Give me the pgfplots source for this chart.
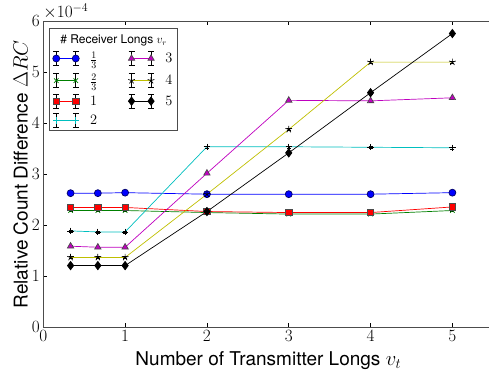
\documentclass[border=0pt]{standalone}
\usepackage{pgfplots}
\pgfplotsset{compat=1.18}
\usepackage{fontspec}
\setmainfont{TeX Gyre Heros}
\definecolor{mgreen}{rgb}{0,0.5,0}
\definecolor{mcyan}{rgb}{0,0.75,0.75}
\definecolor{mmag}{rgb}{0.75,0,0.75}
\definecolor{myel}{rgb}{0.75,0.75,0}
\begin{document}
\begin{tikzpicture}
\pgfplotsset{
 errleg/.style={legend image code/.code={
   \draw[black,line width=0.6pt] (0bp,-7bp)--(0bp,7bp) (-3bp,-7bp)--(3bp,-7bp) (-3bp,7bp)--(3bp,7bp)
      (19.5bp,-7bp)--(19.5bp,7bp) (16.5bp,-7bp)--(22.5bp,-7bp) (16.5bp,7bp)--(22.5bp,7bp);
   \draw[##1] plot coordinates {(0bp,0bp) (19.5bp,0bp)};
 }},
 ser/.style={line width=0.7pt, forget plot,
   error bars/y dir=both, error bars/y fixed=0.02e-4,
   error bars/error bar style={black,line width=0.5pt},
   error bars/error mark options={black,rotate=90,mark size=2pt}},
}
\begin{axis}[
 scale only axis, width=450bp, height=306bp,
 xmin=0, xmax=5.5, ymin=0, ymax=0.0006,
 xtick={0,1,2,3,4,5},
 ytick={0,0.0001,0.0002,0.0003,0.0004,0.0005,0.0006},
 scaled y ticks=base 10:4,
 ytick scale label code/.code={$\times10^{#1}$},
 every y tick scale label/.style={at={(rel axis cs:0,1)},anchor=south west,inner sep=0pt,yshift=2bp,
   font=\fontsize{18bp}{20bp}\selectfont},
 tick label style={font=\fontsize{18bp}{20bp}\selectfont},
 label style={font=\fontsize{19bp}{21bp}\selectfont},
 xlabel={Number of Transmitter Longs $v_t$},
 ylabel={Relative Count Difference $\Delta RC$},
 xlabel style={yshift=-3bp},
 ylabel style={yshift=-3bp},
 axis line style={line width=0.8pt, black!70},
 tick style={black, line width=0.6pt},
 major tick length=4bp,
 legend columns=2,
 legend cell align=left,
 legend style={at={(0.0135,0.977)}, anchor=north west, draw=black!70, line width=0.8pt,
   font=\fontsize{14.5bp}{16bp}\selectfont, row sep=4.5bp, column sep=9bp, inner sep=3bp,
   label={[anchor=north,yshift=-3bp,font=\fontsize{12bp}{14bp}\selectfont]north:\# Receiver Longs $v_r$}},
]
% legend
\addlegendimage{empty legend}\addlegendentry{\rule{0pt}{8bp}}
\addlegendimage{empty legend}\addlegendentry{}
\addlegendimage{errleg, blue, line width=0.7pt, mark=*, mark size=3.5pt, mark options={fill=blue,draw=black!60!blue}}\addlegendentry{\makebox[27bp][l]{$\frac{1}{3}$}}
\addlegendimage{errleg, mmag, line width=0.7pt, mark=triangle*, mark size=3.7pt, mark options={fill=mmag,draw=black!70}}\addlegendentry{$3$}
\addlegendimage{errleg, mgreen, line width=0.7pt, mark=x, mark size=3.2pt}\addlegendentry{\makebox[27bp][l]{$\frac{2}{3}$}}
\addlegendimage{errleg, myel, line width=0.7pt, mark=star, mark size=3.5pt, mark options={draw=black}}\addlegendentry{$4$}
\addlegendimage{errleg, red, line width=0.7pt, mark=square*, mark size=3.2pt, mark options={fill=red,draw=black!70}}\addlegendentry{\makebox[27bp][l]{$1$}}
\addlegendimage{errleg, black, line width=0.7pt, mark=diamond*, mark size=4.2pt, mark options={fill=black}}\addlegendentry{$5$}
\addlegendimage{errleg, mcyan, line width=0.7pt, mark=+, mark size=3.2pt}\addlegendentry{\makebox[27bp][l]{$2$}}

\addplot[ser, blue, mark=*, mark size=3.5pt, mark options={fill=blue,draw=black!60!blue}] coordinates {
(0.3333,2.63e-4) (0.6667,2.63e-4) (1,2.64e-4) (2,2.61e-4) (3,2.61e-4) (4,2.61e-4) (5,2.64e-4)};
\addplot[ser, mgreen, mark=x, mark size=3.2pt] coordinates {
(0.3333,2.29e-4) (0.6667,2.29e-4) (1,2.29e-4) (2,2.25e-4) (3,2.22e-4) (4,2.22e-4) (5,2.29e-4)};
\addplot[ser, red, mark=square*, mark size=3.2pt, mark options={fill=red,draw=black!70}] coordinates {
(0.3333,2.35e-4) (0.6667,2.35e-4) (1,2.35e-4) (2,2.27e-4) (3,2.25e-4) (4,2.25e-4) (5,2.36e-4)};
\addplot[ser, mcyan, mark=+, mark size=3.2pt, mark options={draw=black}] coordinates {
(0.3333,1.89e-4) (0.6667,1.87e-4) (1,1.87e-4) (2,3.54e-4) (3,3.54e-4) (4,3.53e-4) (5,3.52e-4)};
\addplot[ser, mmag, mark=triangle*, mark size=3.7pt, mark options={fill=mmag,draw=black!70}] coordinates {
(0.3333,1.59e-4) (0.6667,1.57e-4) (1,1.57e-4) (2,3.02e-4) (3,4.45e-4) (4,4.44e-4) (5,4.50e-4)};
\addplot[ser, myel, mark=star, mark size=3.5pt, mark options={draw=black}] coordinates {
(0.3333,1.37e-4) (0.6667,1.37e-4) (1,1.37e-4) (2,2.61e-4) (3,3.88e-4) (4,5.20e-4) (5,5.20e-4)};
\addplot[ser, black, mark=diamond*, mark size=4.2pt, mark options={fill=black}] coordinates {
(0.3333,1.21e-4) (0.6667,1.21e-4) (1,1.21e-4) (2,2.27e-4) (3,3.42e-4) (4,4.60e-4) (5,5.76e-4)};
\end{axis}
\pgfresetboundingbox
\path[use as bounding box] (-43.3bp,-47.7bp) rectangle (445.7bp,327.3bp);
\end{tikzpicture}
\end{document}
